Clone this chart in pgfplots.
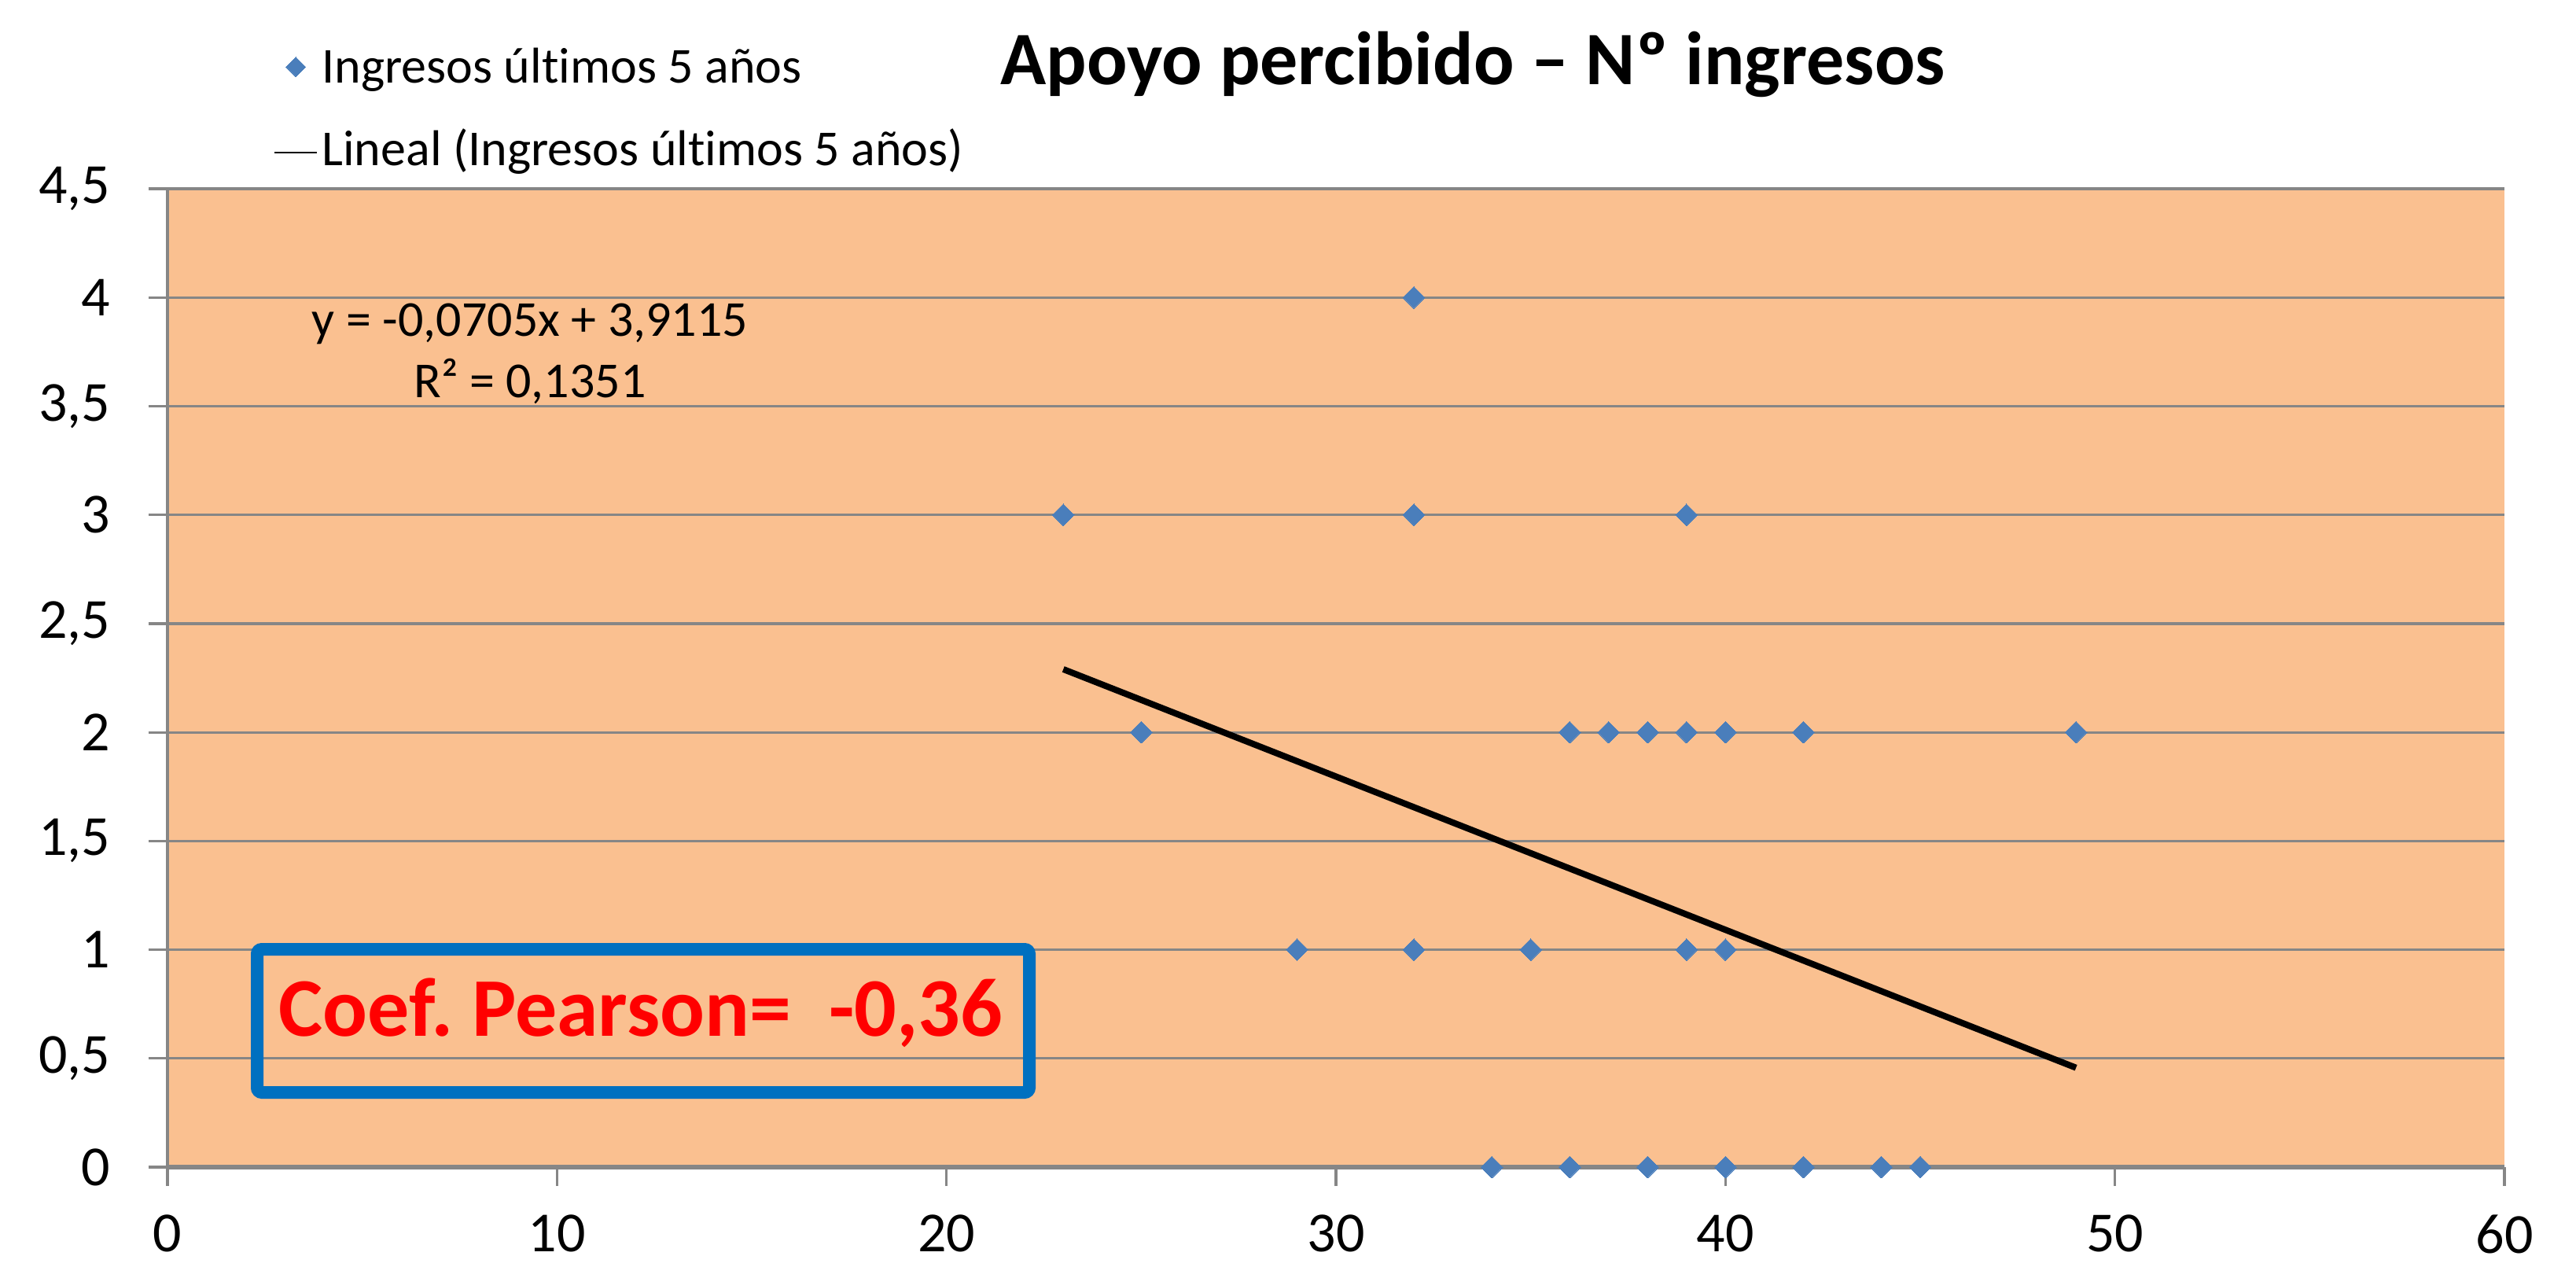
\documentclass[border=0pt]{standalone}
\usepackage{fontspec}
\setmainfont{Carlito}[Ligatures=NoCommon]
\usepackage{pgfplots}
\pgfplotsset{compat=1.18}
\definecolor{bgorange}{HTML}{FAC090}
\definecolor{mblue}{HTML}{4A7EBB}
\definecolor{gridgray}{HTML}{868686}
\definecolor{boxblue}{HTML}{0070C0}
\frenchspacing
\begin{document}
\begin{tikzpicture}
\path[use as bounding box, fill=white] (-53.25pt,-31.5pt) rectangle (765.75pt,371pt);
\begin{axis}[
  at={(0pt,0pt)}, anchor=south west,
  width=743pt, height=311pt, scale only axis,
  xmin=0, xmax=60, ymin=0, ymax=4.5,
  xtick={0,10,20,30,40,50,60},
  ytick={0,0.5,1,1.5,2,2.5,3,3.5,4,4.5},
  axis x line*=bottom, axis y line*=left,
  axis line style={gridgray, line width=0.9pt},
  x axis line style={line width=1.6pt},
  axis background/.style={fill=bgorange},
  ymajorgrids, grid style={gridgray, line width=0.8pt},
  tick align=outside, major tick length=6pt,
  tick style={gridgray, line width=0.8pt},
  /pgf/number format/use comma,
  /pgf/number format/fixed,
  /pgf/number format/assume math mode=true,
  ticklabel style={font=\fontsize{18}{21}\selectfont, inner sep=0pt},
  xticklabel shift=9pt, yticklabel shift=12pt,
  clip=false,
  legend style={draw=none, fill=none, inner sep=0pt, outer sep=0pt,
    font=\fontsize{16}{19}\selectfont,
    nodes={inner sep=0pt, text height=12pt, text depth=4pt},
    row sep=10.25pt, column sep=1.25pt,
    at={(0.04542,1.1471)}, anchor=north west},
  legend cell align=left,
]
\addplot[only marks, mark=square*, mark size=2.45pt,
  mark options={rotate=45, fill=mblue, draw=mblue, line width=0pt},
  legend image code/.code={\draw[only marks, mark=square*, mark size=2.2pt, mark options={rotate=45, fill=mblue, draw=mblue, line width=0pt}] plot coordinates {(6.75pt,1pt)};}]
coordinates {
(32,4)
(23,3) (32,3) (39,3)
(25,2) (36,2) (37,2) (38,2) (39,2) (40,2) (42,2) (49,2)
(29,1) (32,1) (35,1) (39,1) (40,1)
(34,0) (36,0) (38,0) (40,0) (42,0) (44,0) (45,0)
};
\addlegendentry{Ingresos últimos 5 años}
\addplot[black, line width=2pt, no marks,
  legend image code/.code={\draw[black, line width=0.6pt] (0pt,0pt) -- (13.5pt,0pt);}]
coordinates {(23,2.2900) (49,0.4570)};
\addlegendentry{Lineal (Ingresos últimos 5 años)}
\end{axis}
\node[anchor=base, inner sep=0pt, font=\fontsize{24}{28}\selectfont\bfseries] at (415pt,344pt) {Apoyo percibido – Nº ingresos};
\node[anchor=base, inner sep=0pt, font=\fontsize{16}{19}\selectfont] at (115.25pt,264.25pt) {y = -0,0705x + 3,9115};
\node[anchor=base, inner sep=0pt, font=\fontsize{16}{19}\selectfont] at (115.25pt,244.75pt) {R² = 0,1351};
\draw[boxblue, line width=4pt, rounded corners=1.5pt] (28.5pt,23.75pt) rectangle (274pt,69.25pt);
\node[anchor=base west, inner sep=0pt, text=red, font=\fontsize{26.5}{30}\selectfont\bfseries] at (35.25pt,41.75pt) {Coef. Pearson=\ \ -0,36};
\end{tikzpicture}
\end{document}
